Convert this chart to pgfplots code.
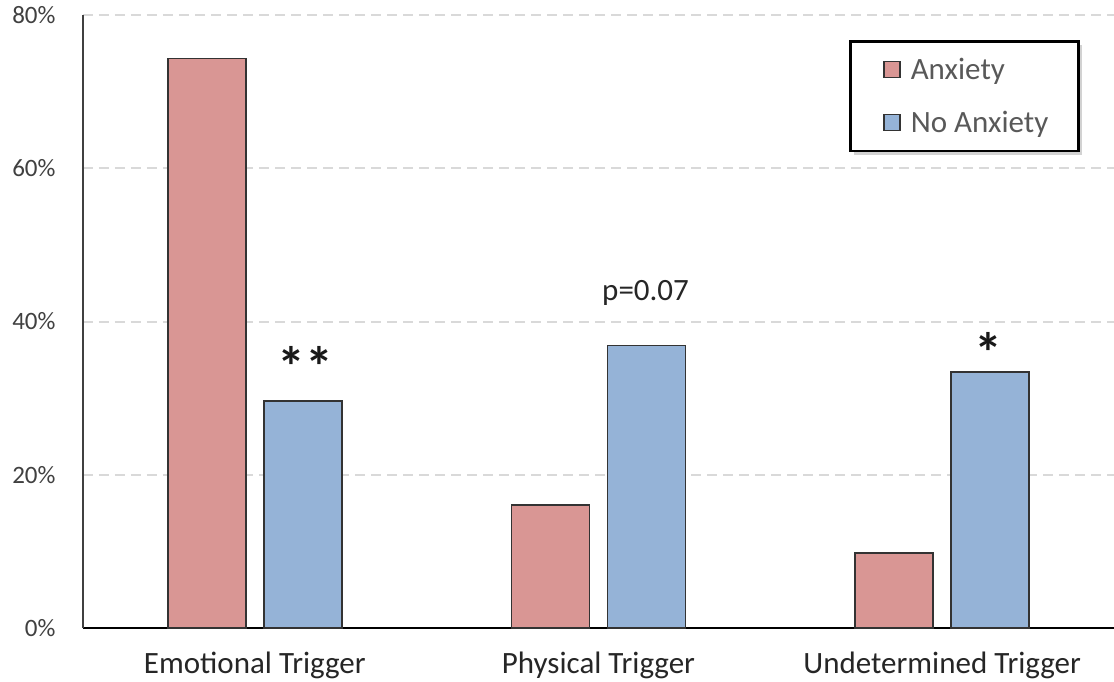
\documentclass[border=0pt]{standalone}
\usepackage{pgfplots}
\pgfplotsset{compat=1.18}
\usepackage{fontspec}
\setmainfont{Carlito}
\usetikzlibrary{shadows}
\makeatletter
\tikzset{no preactions/.code={\let\tikz@preactions\pgfutil@empty}}
\makeatother
\definecolor{anx}{HTML}{D99694}
\definecolor{noanx}{HTML}{95B3D7}
\definecolor{gridc}{HTML}{D9D9D9}
\definecolor{txt}{HTML}{404040}
\definecolor{legtxt}{HTML}{595959}
\begin{document}
\begin{tikzpicture}
\begin{axis}[
  scale only axis, width=1031pt, height=613pt,
  xmin=-0.5, xmax=2.5, ymin=0, ymax=80,
  axis x line*=bottom, axis y line*=left,
  x axis line style={black, line width=1.5pt},
  y axis line style={txt, line width=1.5pt},
  ytick={0,20,40,60,80},
  yticklabel={\pgfmathprintnumber{\tick}\%},
  xtick={0,1,2},
  xticklabels={Emotional Trigger, Physical Trigger, Undetermined Trigger},
  major tick length=0pt,
  ymajorgrids,
  grid style={gridc, line width=2pt, dash pattern=on 10pt off 6pt},
  ybar=18pt, bar width=78pt,
  /pgf/number format/assume math mode=true,
  yticklabel style={txt, xshift=-24pt, font=\fontsize{25}{28}\selectfont},
  xticklabel style={black!85, yshift=-20pt, font=\fontsize{31}{34}\selectfont},
  legend style={at={(rel axis cs:0.743,0.959)}, anchor=north west,
    draw=black, line width=2.5pt, fill=white,
    drop shadow={shadow xshift=4pt, shadow yshift=-4pt, fill=black!35},
    inner xsep=28pt, inner ysep=15pt, row sep=26pt,
    font=\fontsize{31}{34}\selectfont, text=legtxt},
  legend cell align=left,
  legend image code/.code={\path[no preactions] (0pt,0pt) (29pt,0pt); \draw[#1, no preactions, line width=1.2pt, draw=black!80] (5pt,-8pt) rectangle (21pt,8pt);},
  clip=false,
]
\addplot[fill=anx, draw=black!80, line width=1.5pt] coordinates {(0,74.3) (1,16.05) (2,9.8)};
\addplot[fill=noanx, draw=black!80, line width=1.5pt] coordinates {(0,29.6) (1,36.9) (2,33.4)};
\legend{Anxiety, No Anxiety}
\node[anchor=north, inner sep=0pt, font=\fontsize{56}{56}\selectfont\bfseries, text=black!90] at (axis cs:0.147,36.8) {**};
\node[anchor=base, inner sep=0pt, font=\fontsize{31}{34}\selectfont, text=black!85] at (axis cs:1.137,42.71) {p=0.07};
\node[anchor=north, inner sep=0pt, font=\fontsize{56}{56}\selectfont\bfseries, text=black!90] at (axis cs:2.134,38.54) {*};
\end{axis}
\pgfresetboundingbox
\path[use as bounding box] (-83pt,-53pt) rectangle (1031pt,628pt);
\end{tikzpicture}
\end{document}
